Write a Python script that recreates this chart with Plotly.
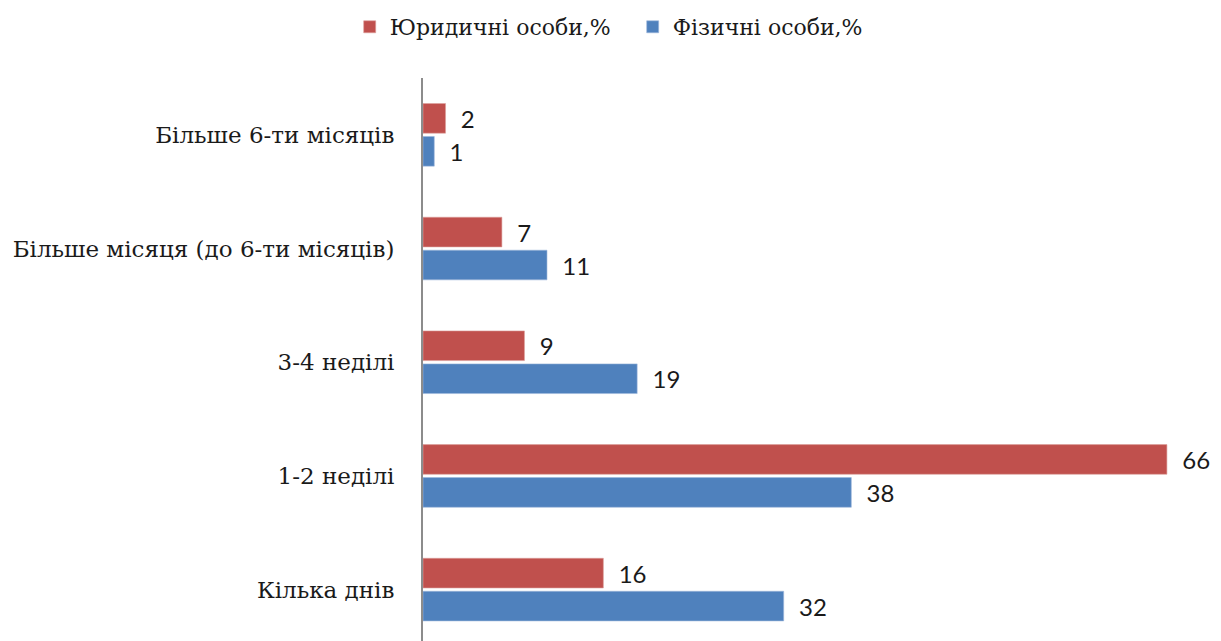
import plotly.graph_objects as go

categories = ["Кілька днів", "1-2 неділі", "3-4 неділі",
              "Більше місяця (до 6-ти місяців)", "Більше 6-ти місяців"]
legal_pct = [16, 66, 9, 7, 2]      # Юридичні особи,%
individual_pct = [32, 38, 19, 11, 1]  # Фізичні особи,%

RED = "#C0504D"
BLUE = "#4F81BD"
LABEL_FONT = dict(family="Lato, Liberation Sans, sans-serif", size=24, color="#1a1a1a")
SERIF = "DejaVu Serif, serif"

fig = go.Figure()
fig.add_trace(go.Bar(
    y=categories, x=individual_pct, orientation="h", name="Фізичні особи,%",
    marker=dict(color=BLUE, line=dict(color="#9db7dc", width=0.6)),
    texttemplate="\u00a0\u00a0%{x}", textposition="outside", cliponaxis=False,
    textfont=LABEL_FONT, legendrank=2,
))
fig.add_trace(go.Bar(
    y=categories, x=legal_pct, orientation="h", name="Юридичні особи,%",
    marker=dict(color=RED, line=dict(color="#dc9d9b", width=0.6)),
    texttemplate="\u00a0\u00a0%{x}", textposition="outside", cliponaxis=False,
    textfont=LABEL_FONT, legendrank=1,
))

fig.update_layout(
    width=1213, height=633,
    margin=dict(l=415, r=9, t=70, b=0),
    paper_bgcolor="white", plot_bgcolor="white",
    barmode="group", bargap=0.42, bargroupgap=0.1,
    font=dict(family=SERIF, size=22, color="#1a1a1a"),
    showlegend=True,
    legend=dict(orientation="h", xref="container", yref="container",
                x=0.515, xanchor="center", y=0.97, yanchor="middle",
                font=dict(family=SERIF, size=22, color="#1a1a1a"),
                entrywidth=238),
    xaxis=dict(range=[0, 70], visible=False, showgrid=False, zeroline=False),
    yaxis=dict(categoryorder="array", categoryarray=categories,
               range=[-0.452, 4.5], showline=True, linecolor="#8c8c8c", linewidth=2,
               ticks="", showgrid=False, zeroline=False, ticklabelstandoff=22,
               tickfont=dict(family=SERIF, size=23, color="#1a1a1a")),
)

fig.write_html("out.html")
